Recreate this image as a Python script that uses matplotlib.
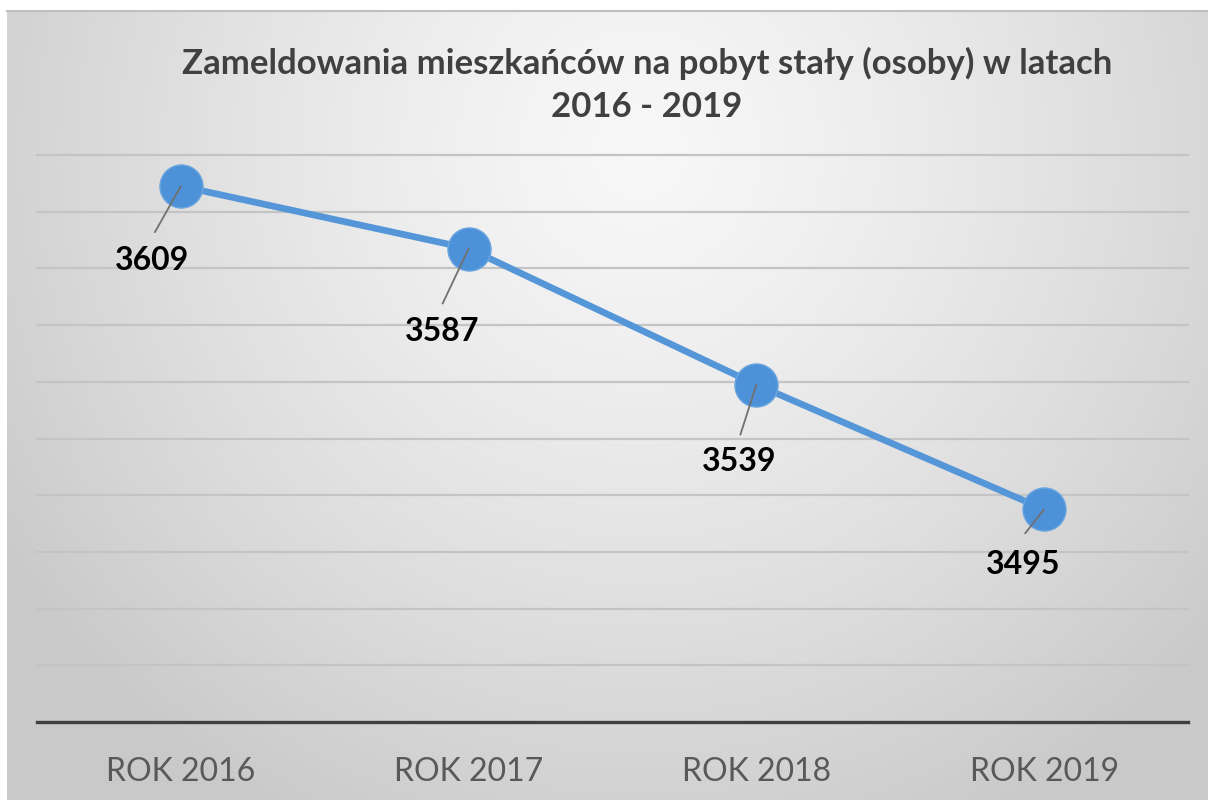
import numpy as np
import matplotlib.pyplot as plt

# data
years = ['ROK 2016', 'ROK 2017', 'ROK 2018', 'ROK 2019']
values = [3609, 3587, 3539, 3495]
# label offsets from each point (pixels)
label_dx = [-29, -26, -17, -21]
label_dy = [-74, -83, -77, -55]
lead_dx = [-26, -26, -16, -19]
lead_dy = [-46, -55, -50, -24]

title1 = 'Zameldowania mieszkańców na pobyt stały (osoby) w latach'
title2 = '2016 - 2019'

plt.rcParams['font.family'] = ['Lato', 'DejaVu Sans']

W, H = 1208, 800
fig = plt.figure(figsize=(W / 100, H / 100), dpi=100)
fig.patch.set_facecolor('white')

# gradient background box
bg = fig.add_axes([0, 0, 1, 1], zorder=-10)
bg.set_xlim(0, W)
bg.set_ylim(H, 0)
bg.axis('off')
xx, yy = np.meshgrid(np.linspace(7, W, 300), np.linspace(10, H, 200))
r = np.sqrt(((xx - 640) / 760) ** 2 + ((yy - 150) / 760) ** 2)
shade = 0.97 - 0.18 * np.clip(r, 0, 1) ** 1.3
bg.imshow(np.dstack([shade] * 3), extent=(7, W, H, 10), aspect='auto',
          interpolation='bilinear')
bg.plot([7, W], [11, 11], color='#c0c0c0', lw=1.5)

ax = fig.add_axes([37 / W, 78 / H, (1188 - 37) / W, (722 - 155) / H])
ax.set_facecolor('none')
x = np.arange(len(years))
ax.set_xlim(-0.5, 3.5)
ax.set_ylim(3420, 3620)

for v in range(3440, 3621, 20):
    ax.axhline(v, color='#c4c4c4', lw=1.6, zorder=1, clip_on=False)

for s in ['top', 'left', 'right']:
    ax.spines[s].set_visible(False)
ax.spines['bottom'].set_color('#404040')
ax.spines['bottom'].set_linewidth(2.4)
ax.set_yticks([])
ax.set_xticks(x)
ax.set_xticklabels(years, fontsize=23, color='#595959')
ax.tick_params(axis='x', length=0, pad=25)

ax.plot(x, values, color='#5596d9', lw=4.8, marker='o', markersize=31,
        markerfacecolor='#4d91d8', markeredgecolor='#6aa6e0',
        markeredgewidth=1, zorder=3)

for i, v in enumerate(values):
    ax.annotate('', xy=(x[i], v), xytext=(lead_dx[i], lead_dy[i]),
                textcoords='offset pixels',
                arrowprops=dict(arrowstyle='-', color='#707070', lw=1.3,
                                shrinkA=0, shrinkB=0), zorder=4)
    ax.annotate(str(v), xy=(x[i], v), xytext=(label_dx[i], label_dy[i]),
                textcoords='offset pixels', ha='center', va='center',
                fontsize=23, fontweight='bold', color='black', zorder=5)

fig.text(647 / W, 1 - 63 / H, title1, ha='center', va='center',
         fontsize=25, fontweight='bold', color='#404040')
fig.text(647 / W, 1 - 107 / H, title2, ha='center', va='center',
         fontsize=25, fontweight='bold', color='#404040')

fig.savefig('out.png', dpi=100)
